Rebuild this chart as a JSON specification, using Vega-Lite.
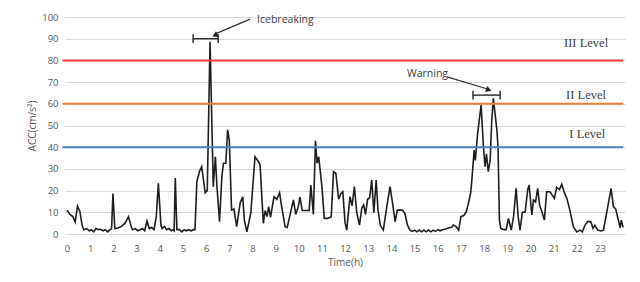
{
  "$schema": "https://vega.github.io/schema/vega-lite/v6.json",
  "width": 560,
  "height": 217,
  "autosize": {"type": "none"},
  "padding": {"left": 65, "top": 17, "right": 15, "bottom": 48},
  "background": "#ffffff",
  "config": {
    "view": {"stroke": null},
    "axis": {"labelFont": "Open Sans", "titleFont": "Open Sans", "labelColor": "#595959", "titleColor": "#595959", "labelFontSize": 9.5, "titleFontSize": 10, "titleFontWeight": "normal", "labelOverlap": false}
  },
  "datasets": {
    "acc": [
      {"t": 0.0, "v": 11}, {"t": 0.12, "v": 9}, {"t": 0.25, "v": 8}, {"t": 0.35, "v": 5.5}, {"t": 0.45, "v": 12.8}, {"t": 0.55, "v": 10.5}, {"t": 0.65, "v": 4}, {"t": 0.72, "v": 2}, {"t": 0.85, "v": 2.5}, {"t": 0.95, "v": 1.5},
      {"t": 1.05, "v": 2}, {"t": 1.15, "v": 1}, {"t": 1.25, "v": 2.5}, {"t": 1.35, "v": 2}, {"t": 1.45, "v": 2.2}, {"t": 1.55, "v": 1.5}, {"t": 1.65, "v": 2}, {"t": 1.75, "v": 1}, {"t": 1.85, "v": 2}, {"t": 1.92, "v": 2.5},
      {"t": 1.98, "v": 18.7}, {"t": 2.06, "v": 2.5}, {"t": 2.2, "v": 2.8}, {"t": 2.35, "v": 3.5}, {"t": 2.5, "v": 5}, {"t": 2.65, "v": 8}, {"t": 2.75, "v": 4}, {"t": 2.82, "v": 2}, {"t": 2.95, "v": 2.5}, {"t": 3.05, "v": 1.5},
      {"t": 3.15, "v": 2}, {"t": 3.25, "v": 2.5}, {"t": 3.35, "v": 1.5}, {"t": 3.45, "v": 6}, {"t": 3.55, "v": 2.5}, {"t": 3.65, "v": 3}, {"t": 3.75, "v": 2}, {"t": 3.85, "v": 8}, {"t": 3.94, "v": 23.4}, {"t": 4.05, "v": 4},
      {"t": 4.1, "v": 2.5}, {"t": 4.2, "v": 3.5}, {"t": 4.3, "v": 2}, {"t": 4.4, "v": 2.5}, {"t": 4.5, "v": 1.5}, {"t": 4.58, "v": 2}, {"t": 4.62, "v": 1.5}, {"t": 4.67, "v": 25.8}, {"t": 4.74, "v": 2}, {"t": 4.85, "v": 2},
      {"t": 4.95, "v": 1}, {"t": 5.05, "v": 2}, {"t": 5.15, "v": 1.5}, {"t": 5.25, "v": 2}, {"t": 5.35, "v": 1.5}, {"t": 5.45, "v": 2}, {"t": 5.52, "v": 2}, {"t": 5.6, "v": 24}, {"t": 5.72, "v": 29}, {"t": 5.81, "v": 31},
      {"t": 5.96, "v": 19}, {"t": 6.05, "v": 20}, {"t": 6.17, "v": 88.6}, {"t": 6.31, "v": 21.8}, {"t": 6.4, "v": 35.6}, {"t": 6.47, "v": 21.8}, {"t": 6.58, "v": 5.7}, {"t": 6.68, "v": 26.4}, {"t": 6.75, "v": 32.6}, {"t": 6.85, "v": 32.6},
      {"t": 6.93, "v": 48}, {"t": 7.0, "v": 43.3}, {"t": 7.1, "v": 11}, {"t": 7.2, "v": 11.5}, {"t": 7.32, "v": 3.4}, {"t": 7.47, "v": 14.3}, {"t": 7.58, "v": 17.2}, {"t": 7.65, "v": 6.5}, {"t": 7.76, "v": 1}, {"t": 7.93, "v": 9.7},
      {"t": 8.11, "v": 35.6}, {"t": 8.26, "v": 33.3}, {"t": 8.33, "v": 31.8}, {"t": 8.47, "v": 4.9}, {"t": 8.55, "v": 10.8}, {"t": 8.63, "v": 8}, {"t": 8.7, "v": 12.6}, {"t": 8.78, "v": 7.7}, {"t": 8.93, "v": 17.2}, {"t": 9.05, "v": 16},
      {"t": 9.17, "v": 19}, {"t": 9.27, "v": 12}, {"t": 9.41, "v": 3.4}, {"t": 9.5, "v": 3}, {"t": 9.77, "v": 15.7}, {"t": 9.87, "v": 9}, {"t": 9.98, "v": 12.6}, {"t": 10.05, "v": 17}, {"t": 10.15, "v": 10.8}, {"t": 10.3, "v": 10.8},
      {"t": 10.45, "v": 10.8}, {"t": 10.52, "v": 22.6}, {"t": 10.63, "v": 9}, {"t": 10.72, "v": 43}, {"t": 10.79, "v": 32.6}, {"t": 10.86, "v": 35.6}, {"t": 11.0, "v": 21.8}, {"t": 11.1, "v": 7.2}, {"t": 11.25, "v": 7.2}, {"t": 11.4, "v": 8},
      {"t": 11.5, "v": 28.7}, {"t": 11.6, "v": 28}, {"t": 11.72, "v": 16}, {"t": 11.82, "v": 18.7}, {"t": 11.9, "v": 19.5}, {"t": 12.0, "v": 5}, {"t": 12.07, "v": 1.8}, {"t": 12.21, "v": 17.2}, {"t": 12.3, "v": 13}, {"t": 12.4, "v": 21.8},
      {"t": 12.5, "v": 10}, {"t": 12.62, "v": 4.1}, {"t": 12.72, "v": 12}, {"t": 12.8, "v": 13.4}, {"t": 12.88, "v": 9}, {"t": 12.97, "v": 16}, {"t": 13.06, "v": 16.7}, {"t": 13.15, "v": 24.9}, {"t": 13.24, "v": 9.8}, {"t": 13.34, "v": 24.9},
      {"t": 13.42, "v": 11}, {"t": 13.52, "v": 4}, {"t": 13.65, "v": 1.8}, {"t": 13.8, "v": 12.6}, {"t": 13.94, "v": 21.8}, {"t": 14.05, "v": 14}, {"t": 14.16, "v": 5.7}, {"t": 14.25, "v": 11}, {"t": 14.37, "v": 11}, {"t": 14.47, "v": 11},
      {"t": 14.58, "v": 9.5}, {"t": 14.69, "v": 4.1}, {"t": 14.8, "v": 1.8}, {"t": 14.9, "v": 1.2}, {"t": 15.0, "v": 1.8}, {"t": 15.1, "v": 1}, {"t": 15.2, "v": 1.8}, {"t": 15.3, "v": 1}, {"t": 15.4, "v": 1.8}, {"t": 15.5, "v": 1},
      {"t": 15.6, "v": 1.8}, {"t": 15.7, "v": 1}, {"t": 15.8, "v": 1.8}, {"t": 15.9, "v": 1.2}, {"t": 16.0, "v": 2}, {"t": 16.1, "v": 1.5}, {"t": 16.2, "v": 2}, {"t": 16.3, "v": 2.2}, {"t": 16.4, "v": 2.5}, {"t": 16.5, "v": 3},
      {"t": 16.6, "v": 3}, {"t": 16.67, "v": 4.1}, {"t": 16.78, "v": 3.5}, {"t": 16.9, "v": 1.8}, {"t": 17.0, "v": 8}, {"t": 17.12, "v": 8.5}, {"t": 17.22, "v": 10}, {"t": 17.32, "v": 14}, {"t": 17.42, "v": 19}, {"t": 17.47, "v": 24.9},
      {"t": 17.57, "v": 38.7}, {"t": 17.62, "v": 33.9}, {"t": 17.72, "v": 46.4}, {"t": 17.87, "v": 59.4}, {"t": 17.97, "v": 40.2}, {"t": 18.04, "v": 31}, {"t": 18.1, "v": 37}, {"t": 18.18, "v": 28.7}, {"t": 18.26, "v": 34}, {"t": 18.33, "v": 52.5},
      {"t": 18.4, "v": 62.5}, {"t": 18.47, "v": 55.6}, {"t": 18.55, "v": 48}, {"t": 18.6, "v": 40}, {"t": 18.66, "v": 6.4}, {"t": 18.72, "v": 2.6}, {"t": 18.85, "v": 2}, {"t": 18.95, "v": 2}, {"t": 19.05, "v": 7.2}, {"t": 19.17, "v": 1.8},
      {"t": 19.27, "v": 8}, {"t": 19.38, "v": 21}, {"t": 19.47, "v": 8}, {"t": 19.55, "v": 1.8}, {"t": 19.65, "v": 10}, {"t": 19.77, "v": 10}, {"t": 19.88, "v": 20.3}, {"t": 19.94, "v": 22.6}, {"t": 20.06, "v": 8.8}, {"t": 20.13, "v": 15.7},
      {"t": 20.22, "v": 14.8}, {"t": 20.31, "v": 21}, {"t": 20.4, "v": 13}, {"t": 20.5, "v": 10}, {"t": 20.6, "v": 6.4}, {"t": 20.7, "v": 19.5}, {"t": 20.84, "v": 19.5}, {"t": 20.94, "v": 17.9}, {"t": 21.03, "v": 16.4}, {"t": 21.13, "v": 21.5},
      {"t": 21.25, "v": 20.5}, {"t": 21.35, "v": 22.9}, {"t": 21.45, "v": 19.5}, {"t": 21.57, "v": 16.4}, {"t": 21.7, "v": 11}, {"t": 21.85, "v": 3.4}, {"t": 22.0, "v": 1}, {"t": 22.13, "v": 1.8}, {"t": 22.24, "v": 1}, {"t": 22.35, "v": 4},
      {"t": 22.47, "v": 5.7}, {"t": 22.6, "v": 5.7}, {"t": 22.7, "v": 2.6}, {"t": 22.78, "v": 4}, {"t": 22.9, "v": 1.8}, {"t": 23.05, "v": 1.4}, {"t": 23.15, "v": 1.8}, {"t": 23.25, "v": 7.5}, {"t": 23.48, "v": 21}, {"t": 23.58, "v": 12.6},
      {"t": 23.68, "v": 11.5}, {"t": 23.77, "v": 7.5}, {"t": 23.87, "v": 2.9}, {"t": 23.92, "v": 6.4}, {"t": 24.0, "v": 3}
    ],
    "levels": [
      {"level": "III Level", "t": -0.2, "t2": 24.0, "v": 80, "color": "red"},
      {"level": "II Level", "t": -0.2, "t2": 24.0, "v": 60, "color": "orange"},
      {"level": "I Level", "t": -0.2, "t2": 24.0, "v": 40, "color": "blue"}
    ],
    "levelLabels": [
      {"level": "III Level", "t": 22.4, "v": 88},
      {"level": "II Level", "t": 22.4, "v": 64},
      {"level": "I Level", "t": 22.45, "v": 46}
    ],
    "brackets": [
      {"name": "ice", "t": 5.44, "t2": 6.52, "v": 90},
      {"name": "warn", "t": 17.52, "t2": 18.69, "v": 64}
    ],
    "caps": [
      {"t": 5.44, "v": 88, "v2": 92},
      {"t": 6.52, "v": 88, "v2": 92},
      {"t": 17.52, "v": 62, "v2": 66},
      {"t": 18.69, "v": 62, "v2": 66}
    ],
    "arrows": [
      {"name": "Icebreaking", "t": 7.9, "v": 99, "t2": 6.4, "v2": 92.2},
      {"name": "Warning", "t": 16.4, "v": 72.4, "t2": 18.15, "v2": 66.8}
    ],
    "heads": [
      {"name": "Icebreaking", "t": 6.38, "v": 91.6, "angle": 245},
      {"name": "Warning", "t": 18.2, "v": 66.4, "angle": 108}
    ],
    "notes": [
      {"name": "Icebreaking", "t": 8.2, "v": 98.6},
      {"name": "Warning", "t": 14.67, "v": 73.7}
    ]
  },
  "encoding": {
    "x": {"field": "t", "type": "quantitative", "scale": {"domain": [-0.09, 24.08], "nice": false, "zero": false},
      "axis": {"values": [0,1,2,3,4,5,6,7,8,9,10,11,12,13,14,15,16,17,18,19,20,21,22,23], "grid": false, "domain": false, "ticks": false, "tickSize": 0, "labelPadding": 9, "title": "Time(h)", "titlePadding": 5, "labelFlush": false, "labelOverlap": false}},
    "y": {"field": "v", "type": "quantitative", "scale": {"domain": [0, 100], "nice": false},
      "axis": {"values": [0,10,20,30,40,50,60,70,80,90,100], "grid": true, "gridColor": "#d9d9d9", "domain": false, "ticks": false, "tickSize": 0, "labelPadding": 7, "title": "ACC(cm/s²)", "titlePadding": 4, "labelOverlap": false}}
  },
  "layer": [
    {
      "data": {"name": "acc"},
      "mark": {"type": "line", "color": "#1e1e1e", "strokeWidth": 1.6, "clip": false}
    },
    {
      "data": {"name": "levels"},
      "mark": {"type": "rule", "strokeWidth": 2},
      "encoding": {
        "x2": {"field": "t2"},
        "color": {"field": "color", "type": "nominal", "scale": {"domain": ["red", "orange", "blue"], "range": ["#f03a3a", "#ef8033", "#4a7ec0"]}, "legend": null}
      }
    },
    {
      "data": {"name": "levelLabels"},
      "mark": {"type": "text", "font": "Liberation Serif", "fontSize": 12.5, "color": "#404040", "align": "center", "baseline": "middle"},
      "encoding": {"text": {"field": "level"}}
    },
    {
      "data": {"name": "brackets"},
      "mark": {"type": "rule", "color": "#333333", "strokeWidth": 1.5},
      "encoding": {"x2": {"field": "t2"}}
    },
    {
      "data": {"name": "caps"},
      "mark": {"type": "rule", "color": "#333333", "strokeWidth": 1.5},
      "encoding": {"y2": {"field": "v2"}}
    },
    {
      "data": {"name": "arrows"},
      "mark": {"type": "rule", "color": "#333333", "strokeWidth": 1.2},
      "encoding": {"x2": {"field": "t2"}, "y2": {"field": "v2"}}
    },
    {
      "data": {"name": "heads"},
      "mark": {"type": "point", "shape": "triangle-up", "filled": true, "color": "#222222", "size": 40, "opacity": 1},
      "encoding": {"angle": {"field": "angle", "type": "quantitative", "scale": null}}
    },
    {
      "data": {"name": "notes"},
      "mark": {"type": "text", "font": "Open Sans", "fontSize": 10.5, "color": "#404040", "align": "left", "baseline": "middle"},
      "encoding": {"text": {"field": "name"}}
    }
  ]
}
